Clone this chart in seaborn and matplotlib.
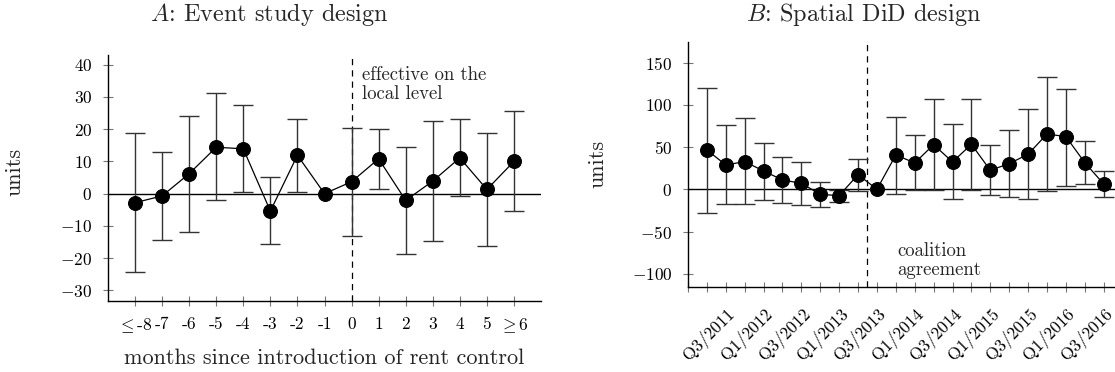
import numpy as np
import pandas as pd
import matplotlib
matplotlib.use("Agg")
import matplotlib.pyplot as plt
import seaborn as sns

# --- datos: panel A (event study) ---
meses = [r'$\leq$-8', '-7', '-6', '-5', '-4', '-3', '-2', '-1',
         '0', '1', '2', '3', '4', '5', r'$\geq$6']
est_a = [-2.8, -0.7, 6.2, 14.4, 13.9, -5.4, 11.9, 0.0, 3.7, 10.8, -2.1, 3.9, 11.1, 1.3, 10.0]
lo_a = [-24.4, -14.4, -11.9, -2.1, 0.5, -15.6, 0.5, np.nan, -13.1, 1.4, -18.6, -14.6, -0.8, -16.2, -5.5]
hi_a = [18.9, 12.9, 24.0, 31.1, 27.4, 5.2, 23.1, np.nan, 20.4, 20.0, 14.4, 22.5, 23.1, 18.8, 25.6]

# --- datos: panel B (spatial DiD) ---
trimestres = ['Q2/2011', 'Q3/2011', 'Q4/2011', 'Q1/2012', 'Q2/2012', 'Q3/2012', 'Q4/2012',
              'Q1/2013', 'Q2/2013', 'Q3/2013', 'Q4/2013', 'Q1/2014', 'Q2/2014', 'Q3/2014',
              'Q4/2014', 'Q1/2015', 'Q2/2015', 'Q3/2015', 'Q4/2015', 'Q1/2016', 'Q2/2016', 'Q3/2016']
est_b = [46.6, 28.8, 32.8, 21.7, 11.1, 7.1, -5.9, -7.5, 17.4, 0.0, 40.7,
         31.2, 52.9, 32.4, 53.3, 22.5, 30.4, 41.5, 65.5, 62.4, 31.6, 6.3]
lo_b = [-27.6, -17.8, -17.8, -13.0, -15.8, -18.9, -20.9, -14.6, -1.6, np.nan, -5.1,
        -1.2, -1.2, -11.8, -0.8, -6.7, -9.5, -11.8, -2.4, 4.3, 6.3, -8.7]
hi_b = [120.4, 75.8, 84.5, 55.3, 38.3, 32.8, 9.1, -0.5, 36.3, np.nan, 86.1,
        64.0, 107.4, 77.8, 107.4, 52.1, 70.7, 95.1, 133.4, 119.2, 57.2, 21.7]

# Estética tipo LaTeX
sns.set_theme(style="ticks")
plt.rcParams.update({
    'font.family': 'serif',
    'font.serif': ['cmr10'],
    'mathtext.fontset': 'cm',
    'axes.formatter.use_mathtext': True,
    'axes.unicode_minus': True,
    'axes.edgecolor': 'black',
    'axes.linewidth': 1.0,
})

W, H = 1115, 372
fig = plt.figure(figsize=(W / 100, H / 100), dpi=100)
ax_a = fig.add_axes([108 / W, 1 - 300.7 / H, (541 - 108) / W, (300.7 - 55) / H])
ax_b = fig.add_axes([688 / W, 1 - 286.7 / H, (W - 688) / W, (286.7 - 42) / H])

err_color = '#333333'


def panel(ax, est, lo, hi):
    df = pd.DataFrame({'x': np.arange(len(est)), 'est': est, 'lo': lo, 'hi': hi})
    ax.axhline(0, color='black', lw=1.0, zorder=1)
    con_ic = df.dropna()
    ax.errorbar(con_ic['x'], con_ic['est'],
                yerr=[con_ic['est'] - con_ic['lo'], con_ic['hi'] - con_ic['est']],
                fmt='none', ecolor=err_color, elinewidth=1.0, capsize=7.5, capthick=1.0, zorder=2)
    sns.lineplot(data=df, x='x', y='est', ax=ax, color='black', lw=0.9,
                 marker='o', markersize=10, markeredgecolor='black', zorder=3)
    sns.despine(ax=ax)
    ax.tick_params(direction='inout', length=6.5, width=0.8, color='#777777',
                   labelcolor='black', labelsize=12.5, pad=8)
    ax.set_xlabel('')
    ax.set_ylabel('')


# --- Panel A ---
panel(ax_a, est_a, lo_a, hi_a)
ax_a.set_xlim(-1, 15)
ax_a.set_ylim(-33.2, 43)
ax_a.set_yticks(np.arange(-30, 41, 10))
ax_a.set_xticks(np.arange(len(meses)))
ax_a.set_xticklabels(meses)
ax_a.axvline(8, color='black', lw=0.9, ls=(0, (5, 4)), zorder=1)
ax_a.text(8.38, 39.5, 'effective on the\nlocal level', ha='left', va='top',
          fontsize=13.5, linespacing=1.05)
ax_a.set_xlabel('months since introduction of rent control', fontsize=16, labelpad=10)

# --- Panel B ---
panel(ax_b, est_b, lo_b, hi_b)
ax_b.set_xlim(-1, 21.6)
ax_b.set_ylim(-115.3, 174.4)
ax_b.set_yticks(np.arange(-100, 151, 50))
ax_b.set_xticks(np.arange(-1, len(trimestres)))
etiquetas = [''] + [t if i % 2 == 1 else '' for i, t in enumerate(trimestres)]
ax_b.set_xticklabels(etiquetas, rotation=45, ha='right', rotation_mode='anchor', fontsize=12.5)
ax_b.tick_params(axis='x', pad=10)
ax_b.axvline(8.5, color='black', lw=0.9, ls=(0, (5, 4)), zorder=1)
ax_b.text(10.08, -62.4, 'coalition\nagreement', ha='left', va='top',
          fontsize=13.5, linespacing=1.05)

# Títulos y etiquetas de eje
fig.text(269 / W, 1 - 15 / H, r'$A$: Event study design', ha='center', va='center', fontsize=17.5)
fig.text(864 / W, 1 - 15 / H, r'$B$: Spatial DiD design', ha='center', va='center', fontsize=17.5)
fig.text(15 / W, 1 - 172 / H, 'units', rotation=90, ha='center', va='center', fontsize=16)
fig.text(598 / W, 1 - 164 / H, 'units', rotation=90, ha='center', va='center', fontsize=16)

fig.savefig('out.png', dpi=100)
